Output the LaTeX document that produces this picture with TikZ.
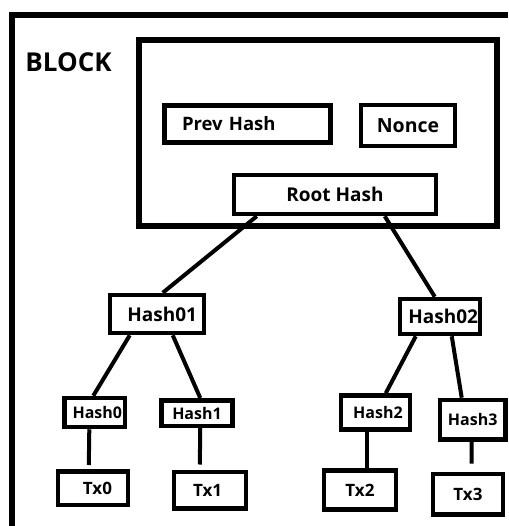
\documentclass[tikz,border=0pt]{standalone}
\usepackage{fontspec}
\setmainfont{Open Sans}

\newcommand{\fsz}[1]{\fontsize{#1}{#1}\selectfont\bfseries}

\tikzset{
    hashbox/.style={draw, line width=4.5pt, inner sep=0pt},
    link/.style={line width=4pt},
}

\begin{document}
\begin{tikzpicture}[x=1pt, y=-1pt]
        \useasboundingbox (0,0) rectangle (508,526);

        \draw [line width=6pt] (12,526) -- (12,15) -- (508,15);
        \draw [line width=6.5pt] (139,40) rectangle (497,226);
        \node [font=\fsz{26}] (blocklabel) at (68.5,62.5) {BLOCK};

        \node [hashbox, minimum width=166pt, minimum height=37pt, inner xsep=17.5pt, text width=131pt, align=left, font=\fsz{18.5}] (prev) at (247.5,124) {Prev Hash};
        \node [hashbox, minimum width=94pt, minimum height=41pt, font=\fsz{19.5}] (nonce) at (408,125.5) {Nonce};
        \node [hashbox, minimum width=202pt, minimum height=39pt, font=\fsz{19}] (root) at (335,194.5) {Root Hash};

        \node [hashbox, minimum width=94pt, minimum height=38pt, inner xsep=7pt, text width=80pt, align=right, font=\fsz{19}] (h01) at (157,314) {Hash01};
        \node [hashbox, minimum width=80pt, minimum height=35pt, inner xsep=2pt, text width=76pt, align=right, font=\fsz{19}] (h02) at (440,316.5) {Hash02};

        \node [hashbox, minimum width=60.5pt, minimum height=29pt, inner xsep=3pt, text width=54.5pt, align=right, font=\fsz{16}] (h0) at (94.8,412.5) {Hash0};
        \node [hashbox, minimum width=71pt, minimum height=25.5pt, font=\fsz{16}] (h1) at (197,413) {Hash1};
        \node [hashbox, minimum width=69pt, minimum height=34pt, inner xsep=7.3pt, text width=54.4pt, align=right, font=\fsz{16}] (h2) at (375.5,412.5) {Hash2};
        \node [hashbox, minimum width=65.5pt, minimum height=39.5pt, font=\fsz{16}] (h3) at (472.7,419.7) {Hash3};

        \node [hashbox, minimum width=70pt, minimum height=33.5pt, inner xsep=16pt, text width=38pt, align=right, font=\fsz{17}] (tx0) at (93,488) {Tx0};
        \node [hashbox, minimum width=72pt, minimum height=36.5pt, inner xsep=19pt, text width=34pt, align=left, font=\fsz{17}] (tx1) at (210,490) {Tx1};
        \node [hashbox, minimum width=72pt, minimum height=39pt, font=\fsz{17}] (tx2) at (360,490) {Tx2};
        \node [hashbox, minimum width=70pt, minimum height=40.5pt, font=\fsz{17}] (tx3) at (468,494) {Tx3};

        \draw [link] ([xshift=25pt]root.south west) -- ([xshift=55pt]h01.north west);
        \draw [link] ([xshift=153pt]root.south west) -- ([xshift=37pt]h02.north west);
        \draw [link] ([xshift=22pt]h01.south west) -- ([xshift=31pt]h0.north west);
        \draw [link] ([xshift=65pt]h01.south west) -- ([xshift=41pt]h1.north west);
        \draw [link] ([xshift=18pt]h02.south west) -- ([xshift=47pt]h2.north west);
        \draw [link] ([xshift=54pt]h02.south west) -- ([xshift=24pt]h3.north west);
        \draw [link, shorten >=4pt] ([xshift=27pt]h0.south west) -- ([xshift=33pt]tx0.north west);
        \draw [link, shorten >=5pt] ([xshift=41pt]h1.south west) -- ([xshift=28pt]tx1.north west);
        \draw [link] ([xshift=28pt]h2.south west) -- ([xshift=45pt]tx2.north west);
        \draw [link, shorten >=8pt] ([xshift=34pt]h3.south west) -- ([xshift=41pt]tx3.north west);
    \end{tikzpicture}
\end{document}
